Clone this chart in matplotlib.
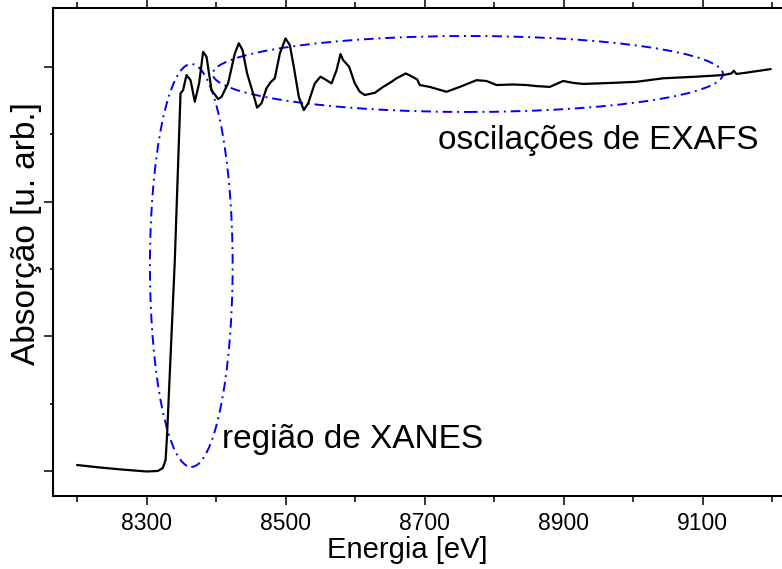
import matplotlib.pyplot as plt
from matplotlib.patches import Ellipse
from matplotlib.ticker import MultipleLocator
import numpy as np

plt.rcParams['font.family'] = ['Liberation Sans', 'DejaVu Sans']

# espectro de absorção
energia = [8200, 8232, 8261, 8285, 8300, 8316, 8323, 8327, 8329, 8340.3, 8348.5,
           8352.2, 8357.1, 8362.9, 8369.1, 8375.3, 8381, 8385.9, 8393.1, 8402.6, 8407.5,
           8417, 8426.6, 8432.4, 8437.7, 8444.3, 8452.9, 8458.7, 8465, 8472.2, 8478,
           8484.2, 8491.4, 8499.6, 8505.8, 8511.5, 8518.7, 8525.9, 8532.1, 8541.7, 8549.9,
           8558.6, 8565.8, 8573, 8578.7, 8582.4, 8591.1, 8599.3, 8606.5, 8613.7, 8628.1,
           8640, 8652.1, 8659.3, 8672.7, 8683.2, 8688.9, 8692.8, 8707.2, 8731.2, 8750.4,
           8774.4, 8788.8, 8803.2, 8827.1, 8846.3, 8860.7, 8879.9, 8899, 8913.4, 8927.8,
           8970.9, 9004.6, 9042.9, 9090.9, 9129.2, 9141.3, 9144.6, 9148.5, 9162.9, 9197.4]
absorcao = [0.022, 0.013, 0.006, 0.001, -0.002, 0.0, 0.011, 0.041, 0.126, 0.783, 1.402,
            1.414, 1.470, 1.451, 1.371, 1.440, 1.556, 1.538, 1.414, 1.381, 1.389,
            1.440, 1.550, 1.588, 1.563, 1.476, 1.402, 1.349, 1.365, 1.421, 1.443,
            1.458, 1.550, 1.606, 1.581, 1.501, 1.389, 1.340, 1.365, 1.439, 1.464,
            1.451, 1.439, 1.488, 1.548, 1.526, 1.501, 1.439, 1.408, 1.396, 1.404,
            1.426, 1.445, 1.458, 1.476, 1.462, 1.454, 1.433, 1.426, 1.408, 1.426,
            1.451, 1.448, 1.433, 1.435, 1.433, 1.429, 1.426, 1.448, 1.441, 1.437,
            1.441, 1.445, 1.458, 1.464, 1.470, 1.476, 1.486, 1.474, 1.479, 1.492]

# regiões destacadas: (centro E, centro y, largura, altura)
xanes = (8364, 0.763, 119, 1.496)
exafs = (8762, 1.474, 734, 0.282)

fig = plt.figure(figsize=(7.82, 5.69), dpi=100)
ax = fig.add_axes([53/782, 1 - 496/569, 1 - 53/782, (496 - 8)/569])

ax.plot(energia, absorcao, color='black', lw=1.6)

for cx, cy, w, h in (xanes, exafs):
    ax.add_patch(Ellipse((cx, cy), w, h, fill=False, edgecolor='blue', lw=1.4,
                         linestyle=(0, (5, 2.5, 1, 2.5))))

ax.text(8718.7, 1.195, 'oscilações de EXAFS', fontsize=24, va='baseline', ha='left')
ax.text(8407.9, 0.085, 'região de XANES', fontsize=24, va='baseline', ha='left')

ax.set_xlim(8165, 9214)
ax.set_ylim(-0.093, 1.719)
ax.set_xticks(np.arange(8300, 9101, 200))
ax.set_xticks(np.arange(8200, 9201, 200), minor=True)
ax.set_yticks([0, 0.5, 1.0, 1.5])
ax.set_yticks([0.25, 0.75, 1.25], minor=True)
ax.set_yticklabels([])

ax.spines['right'].set_visible(False)
for s in ('left', 'bottom', 'top'):
    ax.spines[s].set_linewidth(1.5)

ax.tick_params(axis='x', which='both', direction='out', top=True, labelsize=16.5, width=1.1, pad=5)
ax.tick_params(axis='x', which='major', length=6.5)
ax.tick_params(axis='x', which='minor', length=4)
ax.tick_params(axis='y', which='both', direction='out', right=False, width=1.1)
ax.tick_params(axis='y', which='major', length=6.5)
ax.tick_params(axis='y', which='minor', length=2.5)

ax.set_xlabel('Energia [eV]', fontsize=21)
ax.xaxis.set_label_coords((407 - 53) / 729, -(550 - 496) / 488, transform=ax.transAxes)
ax.xaxis.label.set_va('center')
ax.set_ylabel('Absorção [u. arb.]', fontsize=24)
ax.yaxis.set_label_coords(-(53 - 27) / 729, (496 - 234) / 488, transform=ax.transAxes)
ax.yaxis.label.set_va('center')

fig.savefig('out.png', dpi=100)
